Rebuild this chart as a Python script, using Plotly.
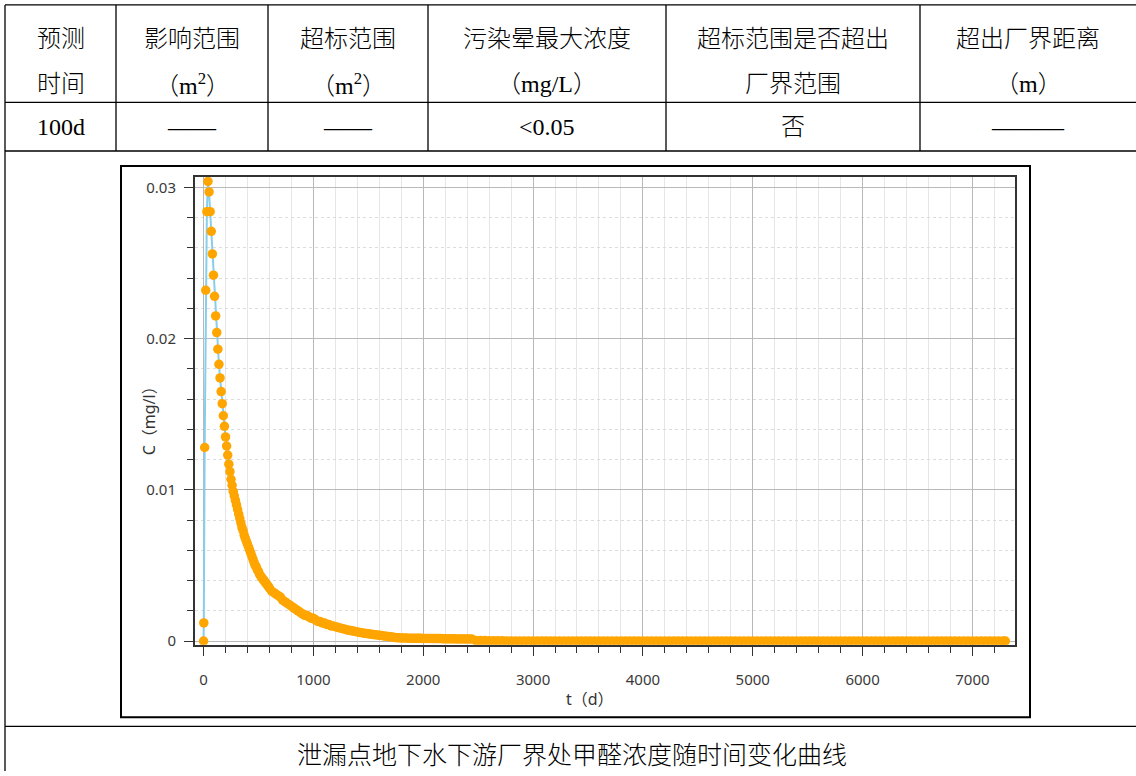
import plotly.graph_objects as go

W, H = 1136, 776

# 预测结果表
header_row1 = ["预测", "影响范围", "超标范围", "污染晕最大浓度", "超标范围是否超出", "超出厂界距离"]
header_row2 = ["时间", "（m<sup>2</sup>）", "（m<sup>2</sup>）", "（mg/L）", "厂界范围", "（m）"]
result_row = ["100d", "——", "——", "&lt;0.05", "否", "———"]
caption = "泄漏点地下水下游厂界处甲醛浓度随时间变化曲线"

# 浓度随时间变化 t (d) / C (mg/l)
t_early = [0, 2, 10, 20, 30, 40, 50, 60, 70, 80, 90, 100, 110, 120, 130, 140, 150,
           160, 170, 180, 190, 200, 210, 220, 230, 240, 250, 260, 270, 280, 290, 300,
           310, 320, 330, 340, 350, 360, 370, 380, 390, 400, 410, 420, 430, 440, 450,
           460, 470, 480, 490, 500, 510, 520, 530, 540, 550, 560, 570, 580, 590, 600]
c_early = [0.0, 0.0012, 0.0128, 0.0232, 0.0284, 0.0304, 0.0297, 0.0284, 0.0271, 0.0256,
           0.0242, 0.0228, 0.0215, 0.0204, 0.0193, 0.0183, 0.0174, 0.0165, 0.0157, 0.0149,
           0.0142, 0.0135, 0.0129, 0.0123, 0.0117, 0.0112, 0.0107, 0.0103, 0.0099, 0.0096,
           0.0093, 0.0090, 0.0087, 0.0084, 0.0081, 0.0078, 0.0075, 0.0073, 0.0070, 0.0068,
           0.0066, 0.0064, 0.0062, 0.0060, 0.0058, 0.0056, 0.0054, 0.0052, 0.0050, 0.0049,
           0.0047, 0.0046, 0.0044, 0.0043, 0.0042, 0.0041, 0.0040, 0.0039, 0.0038, 0.0037,
           0.0036, 0.0035]

t_mid = [620, 640, 660, 680, 700, 720, 740, 760, 780, 800, 820, 840, 860, 880, 900,
         920, 940, 960, 980, 1000, 1020, 1040, 1060, 1080, 1100, 1120, 1140, 1160, 1180,
         1200, 1220, 1240, 1260, 1280, 1300, 1320, 1340, 1360, 1380, 1400, 1420, 1440,
         1460, 1480, 1500, 1520, 1540, 1560, 1580, 1600, 1620, 1640, 1660, 1680, 1700,
         1720, 1740, 1760, 1780, 1800]
c_mid = [0.0033, 0.0032, 0.0031, 0.0030, 0.0029, 0.0027, 0.0026, 0.0025, 0.0024, 0.0023,
         0.0022, 0.0021, 0.0020, 0.0019, 0.0018, 0.0017, 0.0017, 0.0016, 0.0015, 0.0015,
         0.0014, 0.0013, 0.0013, 0.0012, 0.0012, 0.0011, 0.0011, 0.0010, 0.0010, 0.00095,
         0.00091, 0.00087, 0.00083, 0.00079, 0.00075, 0.00072, 0.00069, 0.00066, 0.00063,
         0.00060, 0.00057, 0.00055, 0.00052, 0.00050, 0.00048, 0.00046, 0.00044, 0.00042,
         0.00040, 0.00038, 0.00036, 0.00034, 0.00032, 0.00030, 0.00028, 0.00026, 0.00024,
         0.00022, 0.00021, 0.00020]

t_plateau = [1820, 1840, 1860, 1880, 1900, 1920, 1940, 1960, 1980, 2000, 2020, 2040,
             2060, 2080, 2100, 2120, 2140, 2160, 2180, 2200, 2220, 2240, 2260, 2280,
             2300, 2320, 2340, 2360, 2380, 2400, 2420, 2440]
c_plateau = [0.00020, 0.00020, 0.00019, 0.00019, 0.00019, 0.00018, 0.00018, 0.00018,
             0.00018, 0.00017, 0.00017, 0.00017, 0.00017, 0.00016, 0.00016, 0.00016,
             0.00016, 0.00016, 0.00015, 0.00015, 0.00015, 0.00015, 0.00015, 0.00015,
             0.00014, 0.00014, 0.00014, 0.00014, 0.00014, 0.00014, 0.00014, 0.00014]

t_tail = [2480, 2520, 2560, 2600, 2640, 2680, 2720, 2760, 2800, 2840, 2880, 2920, 2960,
          3000, 3040, 3080, 3120, 3160, 3200, 3240, 3280, 3320, 3360, 3400, 3440, 3480,
          3520, 3560, 3600, 3640, 3680, 3720, 3760, 3800, 3840, 3880, 3920, 3960,
          4000, 4040, 4080, 4120, 4160, 4200, 4240, 4280, 4320, 4360, 4400, 4440, 4480,
          4520, 4560, 4600, 4640, 4680, 4720, 4760, 4800, 4840, 4880, 4920, 4960,
          5000, 5040, 5080, 5120, 5160, 5200, 5240, 5280, 5320, 5360, 5400, 5440, 5480,
          5520, 5560, 5600, 5640, 5680, 5720, 5760, 5800, 5840, 5880, 5920, 5960,
          6000, 6040, 6080, 6120, 6160, 6200, 6240, 6280, 6320, 6360, 6400, 6440, 6480,
          6520, 6560, 6600, 6640, 6680, 6720, 6760, 6800, 6840, 6880, 6920, 6960,
          7000, 7040, 7080, 7120, 7160, 7200, 7240, 7280, 7300]
c_tail = [0.00003, 0.00003, 0.00003, 0.00002, 0.00002, 0.00002, 0.00002, 0.00001, 0.00001,
          0.00001, 0.00001, 0.00001, 0.00001,
          0.00001, 0.00001, 0.00001, 0.00001, 0.00001, 0.0, 0.0, 0.0, 0.0, 0.0, 0.0, 0.0,
          0.0, 0.0, 0.0, 0.0, 0.0, 0.0, 0.0, 0.0, 0.0, 0.0, 0.0, 0.0, 0.0,
          0.0, 0.0, 0.0, 0.0, 0.0, 0.0, 0.0, 0.0, 0.0, 0.0, 0.0, 0.0, 0.0,
          0.0, 0.0, 0.0, 0.0, 0.0, 0.0, 0.0, 0.0, 0.0, 0.0, 0.0, 0.0,
          0.0, 0.0, 0.0, 0.0, 0.0, 0.0, 0.0, 0.0, 0.0, 0.0, 0.0, 0.0, 0.0,
          0.0, 0.0, 0.0, 0.0, 0.0, 0.0, 0.0, 0.0, 0.0, 0.0, 0.0, 0.0,
          0.0, 0.0, 0.0, 0.0, 0.0, 0.0, 0.0, 0.0, 0.0, 0.0, 0.0, 0.0, 0.0,
          0.0, 0.0, 0.0, 0.0, 0.0, 0.0, 0.0, 0.0, 0.0, 0.0, 0.0, 0.0,
          0.0, 0.0, 0.0, 0.0, 0.0, 0.0, 0.0, 0.0, 0.0]

t_days = t_early + t_mid + t_plateau + t_tail
conc = c_early + c_mid + c_plateau + c_tail


def px(x):
    return x / W


def py(y):
    return 1 - y / H


TABLE_FONT = "'Liberation Serif', 'Noto Sans CJK SC', serif"
CHART_FONT = "'Noto Sans', 'Noto Sans CJK SC', sans-serif"

# table grid positions (page pixels)
col_edges = [5, 116, 268, 428, 666, 920, 1136]
row_lines = [5, 103, 152, 731]
row_centers = [39, 85, 128]

fig = go.Figure()

fig.add_trace(go.Scatter(
    x=t_days, y=conc, mode="lines+markers",
    line=dict(color="#87CEEB", width=2),
    marker=dict(color="#FFA500", size=9.5, line=dict(width=0)),
    showlegend=False, hoverinfo="skip",
))

shapes = []
line_style = dict(color="#000000", width=1.3)
for y in row_lines:
    shapes.append(dict(type="line", xref="paper", yref="paper",
                       x0=px(col_edges[0]), x1=px(W), y0=py(y), y1=py(y), line=line_style))
shapes.append(dict(type="line", xref="paper", yref="paper",
                   x0=px(5), x1=px(5), y0=py(5), y1=py(H), line=line_style))
for x in col_edges[1:-1]:
    shapes.append(dict(type="line", xref="paper", yref="paper",
                       x0=px(x), x1=px(x), y0=py(5), y1=py(row_lines[2]), line=line_style))
# frame of the embedded chart picture
shapes.append(dict(type="rect", xref="paper", yref="paper",
                   x0=px(121), x1=px(1030), y0=py(167), y1=py(722),
                   line=dict(color="#000000", width=2)))

annotations = []
for r, row in enumerate([header_row1, header_row2, result_row]):
    for c, text in enumerate(row):
        cx = (col_edges[c] + col_edges[c + 1]) / 2
        size = 24
        if c == 5 and r == 2:
            size = 24
        annotations.append(dict(
            x=px(cx), y=py(row_centers[r]), xref="paper", yref="paper",
            text=text, showarrow=False, xanchor="center", yanchor="middle",
            font=dict(family=TABLE_FONT, size=size, color="#000000", weight=300),
        ))

annotations.append(dict(
    x=px(572), y=py(760), xref="paper", yref="paper", text=caption,
    showarrow=False, xanchor="center", yanchor="middle",
    font=dict(family=TABLE_FONT, size=25, color="#000000", weight=300),
))

# axis titles of the chart
annotations.append(dict(
    x=px(149), y=py(420), xref="paper", yref="paper", text="C（mg/l）",
    textangle=-90, showarrow=False, xanchor="center", yanchor="middle",
    font=dict(family=CHART_FONT, size=16, color="#333333"),
))
annotations.append(dict(
    x=px(590), y=py(704), xref="paper", yref="paper", text="t（d）",
    showarrow=False, xanchor="center", yanchor="middle",
    font=dict(family=CHART_FONT, size=16, color="#333333"),
))

axis_common = dict(
    showline=True, mirror=True, linecolor="#333333", linewidth=2,
    ticks="outside", tickcolor="#333333", ticklen=9, tickwidth=1.3,
    showgrid=True, gridcolor="#b8b8b8", gridwidth=1,
    zeroline=False,
    tickfont=dict(family=CHART_FONT, size=15, color="#3a3a3a"),
)

fig.update_layout(
    width=W, height=H,
    margin=dict(l=0, r=0, t=0, b=0),
    paper_bgcolor="white", plot_bgcolor="white",
    shapes=shapes, annotations=annotations,
    xaxis=dict(
        domain=[px(195), px(1015)], range=[-78, 7388],
        dtick=1000, tick0=0,
        minor=dict(dtick=200, ticklen=6, tickcolor="#333333", showgrid=True,
                   gridcolor="#e6e6e6", gridwidth=1),
        ticklabelstandoff=11,
        **axis_common,
    ),
    yaxis=dict(
        domain=[py(649), py(178)], range=[-0.00025, 0.0307],
        dtick=0.01, tick0=0,
        minor=dict(dtick=0.002, ticklen=6, tickcolor="#333333", showgrid=True,
                   gridcolor="#dcdcdc", gridwidth=1, griddash="dot"),
        ticklabelstandoff=5,
        **axis_common,
    ),
)

fig.write_html("out.html")
